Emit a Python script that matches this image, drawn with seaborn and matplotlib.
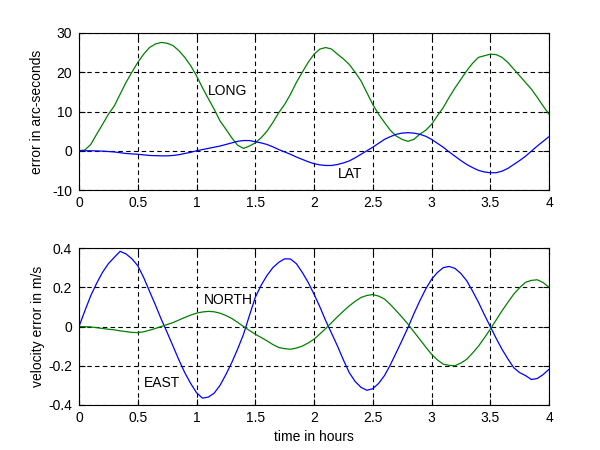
import numpy as np
import pandas as pd
import matplotlib
matplotlib.use("Agg")
import matplotlib.pyplot as plt
import seaborn as sns

hours = [round(0.05 * i, 2) for i in range(81)]

long_err = [0, 0.2, 1.6, 4.2, 6.7, 9.3, 11.4, 14.4, 17.4, 20.0,
            22.5, 24.6, 26.3, 27.2, 27.6, 27.4, 26.8, 25.5, 23.8, 21.7,
            19.1, 16.1, 13.3, 10.6, 7.6, 5.5, 3.3, 1.4, 0.6, 1.2,
            2.0, 3.3, 5.0, 7.2, 9.7, 11.8, 14.4, 17.4, 20.0, 22.5,
            24.6, 25.9, 26.3, 25.9, 24.6, 23.4, 22.0, 20.0, 17.8, 14.8,
            11.8, 9.3, 7.2, 5.2, 3.75, 2.9, 2.4, 2.9, 4.2, 5.2,
            6.7, 8.9, 11.0, 13.6, 16.0, 18.2, 20.4, 22.3, 23.8, 24.2,
            24.6, 24.5, 23.8, 22.5, 20.8, 19.1, 17.4, 15.7, 13.6, 11.4, 9.3]
lat_err = [0, 0, 0, -0.05, -0.1, -0.2, -0.3, -0.5, -0.7, -0.8,
           -0.9, -1.05, -1.2, -1.25, -1.3, -1.3, -1.2, -1.0, -0.7, -0.4,
           0, 0.3, 0.6, 0.9, 1.2, 1.6, 2.0, 2.4, 2.6, 2.6,
           2.3, 2.0, 1.6, 1.0, 0.3, -0.3, -0.9, -1.6, -2.2, -2.8,
           -3.3, -3.6, -3.75, -3.75, -3.5, -3.1, -2.6, -1.8, -0.9, 0,
           0.9, 1.9, 2.9, 3.6, 4.2, 4.5, 4.6, 4.5, 4.2, 3.7,
           2.9, 1.9, 0.9, -0.3, -1.4, -2.5, -3.5, -4.3, -5.0, -5.4,
           -5.6, -5.6, -5.2, -4.5, -3.5, -2.5, -1.4, -0.1, 1.2, 2.4, 3.6]

east_vel = [0, 0.08, 0.157, 0.22, 0.276, 0.32, 0.352, 0.383, 0.37, 0.345,
            0.31, 0.25, 0.18, 0.11, 0.037, -0.03, -0.1, -0.17, -0.235, -0.29,
            -0.337, -0.365, -0.36, -0.34, -0.3, -0.245, -0.184, -0.115, -0.04, 0.055,
            0.148, 0.21, 0.26, 0.3, 0.327, 0.345, 0.344, 0.32, 0.276, 0.225,
            0.165, 0.1, 0.029, -0.035, -0.1, -0.17, -0.235, -0.28, -0.31, -0.325,
            -0.317, -0.29, -0.25, -0.195, -0.133, -0.07, -0.005, 0.065, 0.13, 0.19,
            0.24, 0.275, 0.3, 0.306, 0.296, 0.27, 0.233, 0.18, 0.123, 0.06,
            0.0, -0.06, -0.116, -0.165, -0.21, -0.235, -0.25, -0.27, -0.265, -0.245, -0.218]
north_vel = [0, -0.001, -0.002, -0.006, -0.01, -0.014, -0.017, -0.022, -0.026, -0.03,
             -0.031, -0.027, -0.019, -0.01, 0.0, 0.01, 0.02, 0.033, 0.046, 0.058,
             0.068, 0.074, 0.077, 0.075, 0.068, 0.056, 0.041, 0.021, 0.0, -0.02,
             -0.039, -0.056, -0.073, -0.092, -0.107, -0.113, -0.116, -0.11, -0.1, -0.084,
             -0.065, -0.038, -0.01, 0.02, 0.05, 0.078, 0.105, 0.128, 0.148, 0.158,
             0.163, 0.155, 0.14, 0.112, 0.08, 0.047, 0.012, -0.027, -0.065, -0.104,
             -0.141, -0.17, -0.192, -0.198, -0.2, -0.186, -0.167, -0.135, -0.1, -0.058,
             -0.014, 0.033, 0.08, 0.123, 0.165, 0.198, 0.225, 0.235, 0.238, 0.224, 0.2]

top_yticks = [-10, 0, 10, 20, 30]
bot_yticks = [-0.4, -0.2, 0, 0.2, 0.4]
bot_yticklabels = ["-0.4", "-0.2", "0", "0.2", "0.4"]
xticks = [0, 0.5, 1, 1.5, 2, 2.5, 3, 3.5, 4]
xticklabels = ["0", "0.5", "1", "1.5", "2", "2.5", "3", "3.5", "4"]

sns.set_theme(style="white")
plt.rcParams['font.family'] = ['Liberation Sans', 'DejaVu Sans']
plt.rcParams['font.size'] = 10
plt.rcParams['text.color'] = 'black'
plt.rcParams['axes.labelcolor'] = 'black'

GREEN = "#008000"
BLUE = "#0000ff"
FS = 10

fig = plt.figure(figsize=(6, 4.5), dpi=100)
ax1 = fig.add_axes([79/600, 1-190/450, 470/600, 157/450])
ax2 = fig.add_axes([79/600, 1-405/450, 470/600, 157/450])

df1 = pd.DataFrame({"t": hours, "LONG": long_err, "LAT": lat_err})
df2 = pd.DataFrame({"t": hours, "EAST": east_vel, "NORTH": north_vel})

sns.lineplot(data=df1, x="t", y="LONG", ax=ax1, color=GREEN, linewidth=0.9)
sns.lineplot(data=df1, x="t", y="LAT", ax=ax1, color=BLUE, linewidth=0.9)
sns.lineplot(data=df2, x="t", y="EAST", ax=ax2, color=BLUE, linewidth=0.9)
sns.lineplot(data=df2, x="t", y="NORTH", ax=ax2, color=GREEN, linewidth=0.9)

for ax in (ax1, ax2):
    ax.set_xlim(0, 4)
    ax.set_xticks(xticks)
    ax.set_xticklabels(xticklabels)
    ax.grid(True, color="black", linestyle=(0, (4, 3)), linewidth=0.8)
    ax.set_axisbelow(True)
    for s in ax.spines.values():
        s.set_color("black")
        s.set_linewidth(0.8)
    ax.tick_params(direction="in", length=4, width=0.8, colors="black",
                   labelcolor="black", labelsize=FS,
                   top=True, right=True, bottom=True, left=True)
    ax.tick_params(axis="y", pad=5)
    ax.tick_params(axis="x", pad=4)

ax1.set_ylim(-10, 30)
ax1.set_yticks(top_yticks)
ax1.set_yticklabels([str(v) for v in top_yticks])
ax1.set_xlabel("")
ax1.set_ylabel("error in arc-seconds", fontsize=FS, labelpad=6, color="black")
ax1.text(1.1, 15.2, "LONG", fontsize=FS, va="center", ha="left", color="black")
ax1.text(2.2, -5.9, "LAT", fontsize=FS, va="center", ha="left", color="black")

ax2.set_ylim(-0.4, 0.4)
ax2.set_yticks(bot_yticks)
ax2.set_yticklabels(bot_yticklabels)
ax2.set_xlabel("time in hours", fontsize=FS, labelpad=4, color="black")
ax2.set_ylabel("velocity error in m/s", fontsize=FS, labelpad=2, color="black")
ax2.text(1.06, 0.135, "NORTH", fontsize=FS, va="center", ha="left", color="black")
ax2.text(0.55, -0.29, "EAST", fontsize=FS, va="center", ha="left", color="black")

fig.savefig("out.png", dpi=100, facecolor="white")
